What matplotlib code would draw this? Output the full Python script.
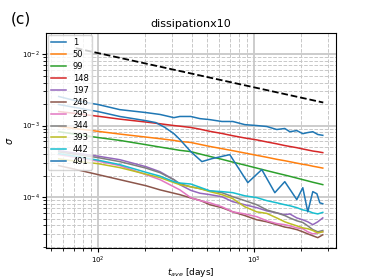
import numpy as np
import matplotlib
matplotlib.use('Agg')
from matplotlib import pyplot as plt

# time axis shared by the smooth/lower curves [days]
t = [56, 71, 100, 138, 203, 250, 307, 335, 394, 451, 522, 624, 733, 875,
     1045, 1211, 1403, 1580, 1701, 1887, 2062, 2219, 2390, 2573, 2770]

s1 = [2.55e-3, 2.24e-3, 1.97e-3, 1.67e-3, 1.52e-3, 1.43e-3, 1.29e-3, 1.34e-3, 1.34e-3,
      1.25e-3, 1.21e-3, 1.14e-3, 1.14e-3, 1.03e-3, 1.0e-3, 9.7e-4, 8.8e-4, 9.1e-4,
      8.2e-4, 8.5e-4, 7.7e-4, 7.98e-4, 8.2e-4, 7.5e-4, 7.3e-4]
s50 = [9.7e-4, 9.1e-4, 8.3e-4, 7.6e-4, 6.9e-4, 6.55e-4, 6.2e-4, 6.0e-4, 5.8e-4,
       5.45e-4, 5.1e-4, 4.75e-4, 4.45e-4, 4.13e-4, 3.83e-4, 3.6e-4, 3.37e-4, 3.22e-4,
       3.12e-4, 2.98e-4, 2.87e-4, 2.8e-4, 2.7e-4, 2.62e-4, 2.54e-4]
s99 = [8.2e-4, 7.6e-4, 6.8e-4, 6.2e-4, 5.4e-4, 5.0e-4, 4.65e-4, 4.5e-4, 4.32e-4,
       4.0e-4, 3.7e-4, 3.37e-4, 3.08e-4, 2.8e-4, 2.54e-4, 2.34e-4, 2.16e-4, 2.03e-4,
       1.95e-4, 1.84e-4, 1.75e-4, 1.68e-4, 1.61e-4, 1.55e-4, 1.49e-4]
s148 = [1.57e-3, 1.48e-3, 1.35e-3, 1.23e-3, 1.12e-3, 1.06e-3, 1.0e-3, 9.8e-4, 9.4e-4,
        8.9e-4, 8.3e-4, 7.75e-4, 7.2e-4, 6.7e-4, 6.3e-4, 5.9e-4, 5.55e-4, 5.25e-4,
        5.1e-4, 4.9e-4, 4.7e-4, 4.55e-4, 4.4e-4, 4.3e-4, 4.18e-4]
s197 = [4.46e-4, 4.13e-4, 3.73e-4, 3.33e-4, 2.66e-4, 2.26e-4, 1.75e-4, 1.49e-4, 1.24e-4,
        1.13e-4, 1.08e-4, 1.01e-4, 8.6e-5, 7.8e-5, 7.1e-5, 6.4e-5, 6.0e-5, 5.65e-5,
        5.8e-5, 5.1e-5, 4.8e-5, 4.5e-5, 4.1e-5, 4.5e-5, 5.1e-5]
s246 = [2.75e-4, 2.45e-4, 2.06e-4, 1.75e-4, 1.44e-4, 1.26e-4, 1.13e-4, 1.08e-4, 9.7e-5,
        9.0e-5, 7.8e-5, 7.1e-5, 6.2e-5, 5.5e-5, 4.8e-5, 4.5e-5, 4.1e-5, 3.8e-5,
        3.7e-5, 3.5e-5, 3.26e-5, 3.05e-5, 2.87e-5, 2.7e-5, 2.96e-5]
s295 = [3.92e-4, 3.6e-4, 3.18e-4, 2.75e-4, 2.06e-4, 1.75e-4, 1.39e-4, 1.26e-4, 9.8e-5,
        8.9e-5, 8.3e-5, 7.3e-5, 6.2e-5, 5.8e-5, 5.3e-5, 4.65e-5, 4.25e-5, 4.1e-5,
        3.95e-5, 3.7e-5, 3.6e-5, 3.26e-5, 3.05e-5, 3.15e-5, 3.26e-5]
s344 = [4.28e-4, 3.98e-4, 3.56e-4, 3.13e-4, 2.54e-4, 2.19e-4, 1.75e-4, 1.54e-4, 1.39e-4,
        1.31e-4, 1.22e-4, 1.15e-4, 1.01e-4, 8.9e-5, 7.8e-5, 6.6e-5, 6.0e-5, 5.5e-5,
        5.1e-5, 4.65e-5, 4.4e-5, 3.95e-5, 3.5e-5, 3.26e-5, 3.4e-5]
s393 = [3.42e-4, 3.18e-4, 2.93e-4, 2.58e-4, 2.09e-4, 1.87e-4, 1.59e-4, 1.49e-4, 1.39e-4,
        1.31e-4, 1.19e-4, 1.08e-4, 9.5e-5, 7.3e-5, 6.2e-5, 5.9e-5, 5.1e-5, 4.5e-5,
        4.25e-5, 3.95e-5, 3.7e-5, 3.6e-5, 3.4e-5, 3.15e-5, 3.26e-5]
s442 = [4.05e-4, 3.73e-4, 3.28e-4, 2.84e-4, 2.22e-4, 1.96e-4, 1.64e-4, 1.57e-4, 1.52e-4,
        1.37e-4, 1.22e-4, 1.19e-4, 1.15e-4, 1.04e-4, 9.8e-5, 8.9e-5, 8.3e-5, 7.8e-5,
        7.55e-5, 7.1e-5, 6.6e-5, 6.4e-5, 6.0e-5, 5.8e-5, 6.1e-5]

# series 491 has its own time samples (strong oscillation)
t491 = [56, 100, 138, 203, 235, 269, 307, 335, 394, 464, 538, 701, 915, 1125,
        1364, 1580, 1887, 2062, 2219, 2390, 2540, 2650, 2770]
s491 = [1.97e-3, 1.57e-3, 1.34e-3, 1.17e-3, 1.10e-3, 9.4e-4, 7.7e-4, 6.4e-4, 4.32e-4,
        3.13e-4, 3.44e-4, 3.92e-4, 1.59e-4, 2.42e-4, 1.15e-4, 1.64e-4, 9.2e-5, 1.35e-4,
        6.2e-5, 1.19e-4, 1.11e-4, 8.3e-5, 8.05e-5]

labels = ['1', '50', '99', '148', '197', '246', '295', '344', '393', '442', '491']
series = [s1, s50, s99, s148, s197, s246, s295, s344, s393, s442]

# reference slope line
ref_t = [72, 2790]
ref_y = [0.0121, 0.0021]

fig = plt.figure(figsize=(3.74, 2.8), dpi=100)
ax = fig.add_axes([0.123, 0.114, 0.775, 0.768])

for lab, s in zip(labels[:-1], series):
    ax.plot(t, s, lw=1.1, label=lab)
ax.plot(t491, s491, lw=1.1, label=labels[-1])
ax.plot(ref_t, ref_y, 'k--', lw=1.3)

ax.set_xscale('log')
ax.set_yscale('log')
ax.set_xlim(46.4, 3360)
ax.set_ylim(1.93e-5, 0.0197)

ax.grid(which='major', color='#cccccc', lw=1.4, ls='-')
ax.grid(which='minor', color='#c8c8c8', lw=0.7, ls='--')
ax.tick_params(which='major', labelsize=5, pad=1.5, length=3)
ax.tick_params(which='minor', length=2)

ax.set_title('dissipationx10', fontsize=8, pad=4)
ax.set_xlabel(r'$t_{ave}$ [days]', fontsize=6.5, labelpad=0)
ax.set_ylabel(r'$\sigma$', fontsize=7, labelpad=5)
ax.legend(loc='upper left', fontsize=6, handlelength=1.8, labelspacing=0.35,
          borderaxespad=0.2)
fig.text(0.03, 0.915, '(c)', fontsize=11)

fig.savefig('out.png', dpi=100)
